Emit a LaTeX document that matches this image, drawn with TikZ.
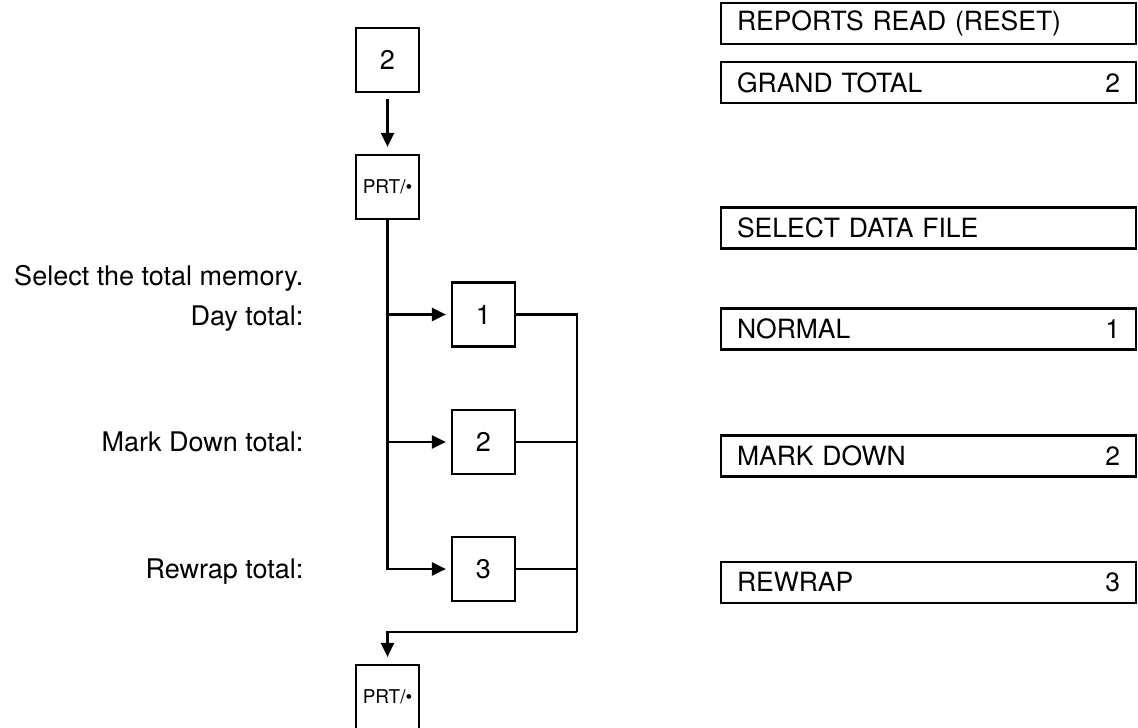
\documentclass[tikz,border=0pt]{standalone}
\usepackage{fontspec}
\setmainfont{TeX Gyre Heros}
\usetikzlibrary{arrows.meta,positioning}
\tikzset {
  >={Triangle[length=14pt,width=13pt]},
  every node/.style={font=\fontsize{27}{32}\selectfont},
  key/.style={draw,line width=2.2pt,minimum width=63pt,minimum height=64pt,inner sep=0pt},
  prtkey/.style={key,font=\fontsize{19}{22}\selectfont},
  display/.style={draw,line width=2.2pt,minimum height=41pt,text width=383pt,
    inner xsep=16pt,inner ysep=0pt,align=left,font=\fontsize{26.5}{30}\selectfont},
  wire/.style={line width=2.4pt},
}

\begin{document}
\begin{tikzpicture}[x=1pt,y=-1pt]
          \useasboundingbox (0,0) rectangle (1138,728);
          % keys
          \node[key] (keyA) at (387.5,60) {2};
          \node[prtkey] (prtA) at (387.5,187) {PRT/\textbullet};
          \node[key] (one) at (483.5,314.5) {1};
          \node[key] (two) at (483.5,442) {2};
          \node[key] (three) at (483.5,569) {3};
          \node[prtkey] (prtB) at (387.5,697) {PRT/\textbullet};
          \coordinate (join) at (577,632);
          % display
          \node[display] (reset) at (928.5,23.5) {REPORTS READ (RESET)};
          \node[display] (gt) at (928.5,82.5) {GRAND TOTAL\hfill 2};
          \node[display] (file) at (928.5,228) {SELECT DATA FILE};
          \node[display] (normal) at (928.5,329) {NORMAL\hfill 1};
          \node[display] (mdown) at (928.5,456) {MARK DOWN\hfill 2};
          \node[display] (rewrap) at (928.5,582.5) {REWRAP\hfill 3};
          % labels
          \node[anchor=base east] (sel) at (307,285) {Select the total memory.};
          \node[anchor=base east] (day) at (307,325) {Day total:};
          \node[anchor=base east] (md) at (307,451) {Mark Down total:};
          \node[anchor=base east] (rw) at (307,578) {Rewrap total:};
          % wires
          \draw[wire,->,shorten <=6pt,shorten >=7pt] (keyA) -- (prtA);
          \draw[wire,->,shorten >=5pt] (prtA.south) |- (three.west);
          \draw[wire,->,shorten >=5pt] (prtA.south |- one) -- (one.west);
          \draw[wire,->,shorten >=5pt] (prtA.south |- two) -- (two.west);
          \draw[wire] (one.east) -| (join);
          \draw[wire] (two.east) -- (two.east -| join);
          \draw[wire] (three.east) -- (three.east -| join);
          \draw[wire,->,shorten >=7pt] (join) -| (prtB.north);
        \end{tikzpicture}
\end{document}
